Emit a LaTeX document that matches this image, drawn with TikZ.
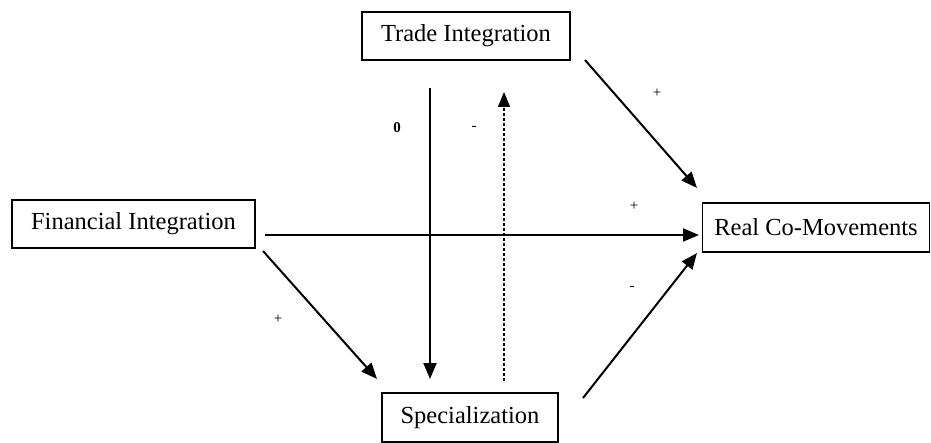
\documentclass[tikz,border=0pt]{standalone}
\usepackage{fontspec}
\setmainfont{Liberation Serif}
\usetikzlibrary{arrows.meta}
\begin{document}
\begin{tikzpicture}[x=1pt,y=-1pt,
  box/.style={draw,line width=1.5pt,inner sep=0pt,font=\fontsize{24.5}{28}\selectfont},
  arr/.style={line width=2pt,-{Triangle[length=16pt,width=13pt]}},
  darr/.style={line width=1.4pt,dash pattern=on 3pt off 2pt,-{Triangle[length=15pt,width=12pt]}},
  lbl/.style={font=\fontsize{15}{17}\selectfont,inner sep=0pt}]
\useasboundingbox (0,0) rectangle (931,443);
\node[box,minimum width=208pt,minimum height=48pt] (trade) at (466,36) {Trade Integration};
\node[box,minimum width=243pt,minimum height=48pt] (fin) at (133.5,224) {Financial Integration};
\node[box,minimum width=227pt,minimum height=49pt] (real) at (816,227.5) {Real Co-Movements};
\node[box,minimum width=176pt,minimum height=49pt] (spec) at (470,417.5) {Specialization};
% connector end points
\coordinate (fa) at (265,235);
\coordinate (ra) at (699,235);
\coordinate (ta) at (585,60);
\coordinate (rb) at (697,188);
\coordinate (fb) at (263,251);
\coordinate (sb) at (377,379);
\coordinate (sc) at (583,398);
\coordinate (rc) at (697,253);
\coordinate (tv) at (430,88);
\coordinate (sv) at (430,379);
\coordinate (sd) at (504,381);
\coordinate (td) at (504,92);
\draw[arr] (fa) -- (ra);
\draw[arr] (ta) -- (rb);
\draw[arr] (fb) -- (sb);
\draw[arr] (sc) -- (rc);
\draw[arr] (tv) -- (sv);
\draw[darr] (sd) -- (td);
\node[lbl,font=\fontsize{15}{17}\selectfont\bfseries] (l0) at (397,128) {0};
\node[lbl] (l1) at (474,128) {-};
\node[lbl] (l2) at (657,93) {+};
\node[lbl] (l3) at (634,206) {+};
\node[lbl] (l4) at (632,288) {-};
\node[lbl] (l5) at (278,319) {+};
\end{tikzpicture}
\end{document}
